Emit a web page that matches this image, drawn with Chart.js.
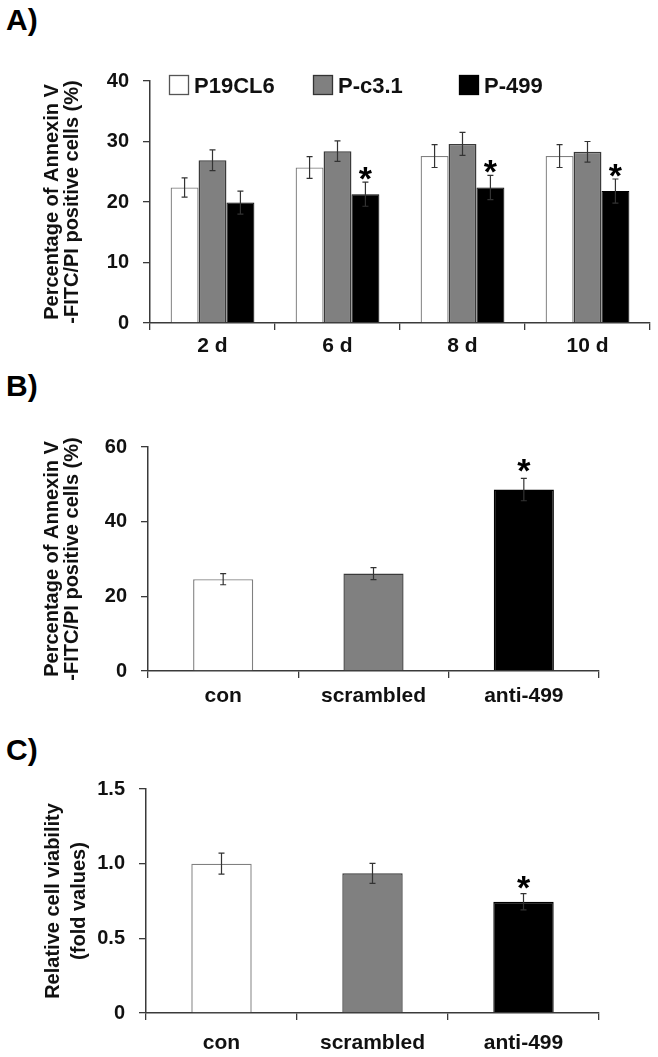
<!DOCTYPE html>
<html>
<head>
<meta charset="utf-8">
<script src="https://cdn.jsdelivr.net/npm/chart.js@4.4.0/dist/chart.umd.min.js"></script>
<style>
  body { margin: 0; background: #fff; width: 658px; height: 1057px; position: relative; overflow: hidden; font-family: 'Liberation Sans', Arial, sans-serif; }
  .panel { position: absolute; left: 0; width: 658px; }
  .tag { position: absolute; left: 6px; font-weight: bold; font-size: 30px; line-height: 1; color: #000; }
</style>
</head>
<body>
<div class="tag" style="top:5px">A)</div>
<div class="tag" style="top:371px">B)</div>
<div class="tag" style="top:735px">C)</div>
<div class="panel" style="top:0;height:360px"><canvas id="chartA"></canvas></div>
<div class="panel" style="top:360px;height:345px"><canvas id="chartB"></canvas></div>
<div class="panel" style="top:705px;height:352px"><canvas id="chartC"></canvas></div>
<script>
// Panel A - annexin V/PI over time
const daysA = ['2 d', '6 d', '8 d', '10 d'];
const seriesNamesA = ['P19CL6', 'P-c3.1', 'P-499'];
const p19cl6 = [22.4, 25.7, 27.6, 27.6];
const p19cl6Err = [1.6, 1.8, 1.9, 1.9];
const pc31 = [26.9, 28.4, 29.6, 28.3];
const pc31Err = [1.7, 1.7, 1.9, 1.7];
const p499 = [19.9, 21.3, 22.4, 21.8];
const p499Err = [1.9, 2.0, 2.0, 2.0];
const p499Star = [false, true, true, true];
const tickValuesA = [0, 10, 20, 30, 40];

// Panels B and C - con / scrambled / anti-499
const groupsBC = ['con', 'scrambled', 'anti-499'];
const annexinB = [24.6, 26.1, 48.6];
const annexinBErr = [1.5, 1.6, 3.0];
const starB = [false, false, true];
const tickValuesB = [0, 20, 40, 60];

const viabilityC = [1.0, 0.935, 0.745];
const viabilityCErr = [0.07, 0.067, 0.054];
const starC = [false, false, true];
const tickValuesC = [0, 0.5, 1.0, 1.5];
const tickLabelsC = ['0', '0.5', '1.0', '1.5'];

const FONT = "'Liberation Sans', Arial, sans-serif";
const AXIS = '#3a3a3a';
const fills = ['#ffffff', '#808080', '#000000'];
const edges = ['#808080', '#3a3a3a', '#000000'];

// error bars + significance stars, drawn from the y scale
const errorBarPlugin = {
    id: 'errorBars',
    afterDatasetsDraw(chart, args, opts) {
        const ctx = chart.ctx;
        const yScale = chart.scales.y;
        chart.data.datasets.forEach((ds, di) => {
            if (!ds.errors) return;
            const meta = chart.getDatasetMeta(di);
            meta.data.forEach((bar, i) => {
                const v = ds.data[i];
                const e = ds.errors[i];
                const yHi = yScale.getPixelForValue(v + e);
                const yLo = yScale.getPixelForValue(v - e);
                const cap = 3;
                ctx.save();
                ctx.strokeStyle = '#333';
                ctx.lineWidth = 1.2;
                ctx.beginPath();
                ctx.moveTo(bar.x, yLo);
                ctx.lineTo(bar.x, yHi);
                ctx.moveTo(bar.x - cap, yHi);
                ctx.lineTo(bar.x + cap, yHi);
                ctx.moveTo(bar.x - cap, yLo);
                ctx.lineTo(bar.x + cap, yLo);
                ctx.stroke();
                if (ds.stars && ds.stars[i]) {
                    ctx.fillStyle = '#000';
                    ctx.font = 'bold 34px ' + FONT;
                    ctx.textAlign = 'center';
                    ctx.textBaseline = 'alphabetic';
                    ctx.fillText('*', bar.x, yHi + (opts.starGap || 5));
                }
                ctx.restore();
            });
        });
    }
};

// hand-placed legend for panel A (uneven spacing in the original)
const boxLegendPlugin = {
    id: 'boxLegend',
    afterDraw(chart, args, opts) {
        if (!opts.offsets) return;
        const ctx = chart.ctx;
        const area = chart.chartArea;
        ctx.save();
        chart.data.datasets.forEach((ds, i) => {
            const x = area.left + opts.offsets[i];
            const y = area.top - 6;
            ctx.fillStyle = ds.backgroundColor;
            ctx.fillRect(x, y, 20, 20);
            ctx.strokeStyle = ds.legendEdge;
            ctx.lineWidth = 1.3;
            ctx.strokeRect(x + 0.5, y + 0.5, 19, 19);
            ctx.fillStyle = '#111';
            ctx.font = 'bold 22px ' + FONT;
            ctx.textAlign = 'left';
            ctx.textBaseline = 'alphabetic';
            ctx.fillText(ds.label, x + 25, y + 18);
        });
        ctx.restore();
    }
};

function xAxis(height, pad) {
    return {
        type: 'category',
        offset: true,
        grid: { offset: true, drawOnChartArea: false, drawTicks: true, tickLength: 7, color: AXIS, lineWidth: 1.3 },
        border: { display: true, color: AXIS, width: 1.5 },
        ticks: { color: '#111', padding: pad, font: { family: FONT, size: 21, weight: 'bold', lineHeight: 1.2 } },
        afterFit: (scale) => { scale.height = height; }
    };
}

function yAxis(width, values, labels, titleLines, titleLineHeight, titlePad) {
    return {
        min: values[0],
        max: values[values.length - 1],
        afterBuildTicks: (scale) => { scale.ticks = values.map(v => ({ value: v })); },
        grid: { drawOnChartArea: false, drawTicks: true, tickLength: 7, color: AXIS, lineWidth: 1.3 },
        border: { display: true, color: AXIS, width: 1.5 },
        ticks: {
            color: '#111',
            padding: 14,
            font: { family: FONT, size: 20, weight: 'bold' },
            callback: (v, i) => labels ? labels[i] : String(v)
        },
        title: {
            display: true,
            text: titleLines,
            color: '#111',
            padding: { top: titlePad, bottom: 0 },
            font: { family: FONT, size: 20, weight: 'bold', lineHeight: titleLineHeight }
        },
        afterFit: (scale) => { scale.width = width; }
    };
}

function makeChart(canvasId, labels, datasets, layout, scales, extra) {
    const canvas = document.getElementById(canvasId);
    return new Chart(canvas, {
        type: 'bar',
        data: { labels: labels, datasets: datasets },
        options: {
            responsive: true,
            maintainAspectRatio: false,
            animation: false,
            layout: { padding: layout },
            plugins: Object.assign({ legend: { display: false }, tooltip: { enabled: false } }, extra),
            scales: scales
        },
        plugins: [errorBarPlugin, boxLegendPlugin]
    });
}

// Panel A
makeChart('chartA', daysA, [
    { label: seriesNamesA[0], data: p19cl6, errors: p19cl6Err, backgroundColor: fills[0], borderColor: edges[0], legendEdge: '#555', borderWidth: 1.3, categoryPercentage: 0.67, barPercentage: 1.0 },
    { label: seriesNamesA[1], data: pc31, errors: pc31Err, backgroundColor: fills[1], borderColor: edges[1], legendEdge: '#333', borderWidth: 1.5, categoryPercentage: 0.67, barPercentage: 1.0 },
    { label: seriesNamesA[2], data: p499, errors: p499Err, stars: p499Star, backgroundColor: fills[2], borderColor: edges[2], legendEdge: '#000', borderWidth: 1, categoryPercentage: 0.67, barPercentage: 1.0 }
], { left: 0, top: 81, right: 8, bottom: 0 }, {
    x: xAxis(37, 4),
    y: yAxis(150, tickValuesA, null, ['Percentage of Annexin V', '-FITC/PI positive cells (%)'], 1.0, 42)
}, { errorBars: { starGap: 8 }, boxLegend: { offsets: [19, 163, 309] } });

// Panel B
makeChart('chartB', groupsBC, [
    { label: 'annexin', data: annexinB, errors: annexinBErr, stars: starB, backgroundColor: fills, borderColor: edges, borderWidth: 1.4, categoryPercentage: 1.0, barPercentage: 0.4 }
], { left: 0, top: 87, right: 59, bottom: 0 }, {
    x: xAxis(34, 6),
    y: yAxis(148, tickValuesB, null, ['Percentage of Annexin V', '-FITC/PI positive cells (%)'], 1.0, 42)
}, { errorBars: { starGap: 4 } });

// Panel C
makeChart('chartC', groupsBC, [
    { label: 'viability', data: viabilityC, errors: viabilityCErr, stars: starC, backgroundColor: fills, borderColor: edges, borderWidth: 1.4, categoryPercentage: 1.0, barPercentage: 0.4 }
], { left: 0, top: 84, right: 59, bottom: 0 }, {
    x: xAxis(44, 11),
    y: yAxis(146, tickValuesC, tickLabelsC, ['Relative cell viability', '(fold values)'], 1.3, 40)
}, { errorBars: { starGap: 5 } });
</script>
</body>
</html>
